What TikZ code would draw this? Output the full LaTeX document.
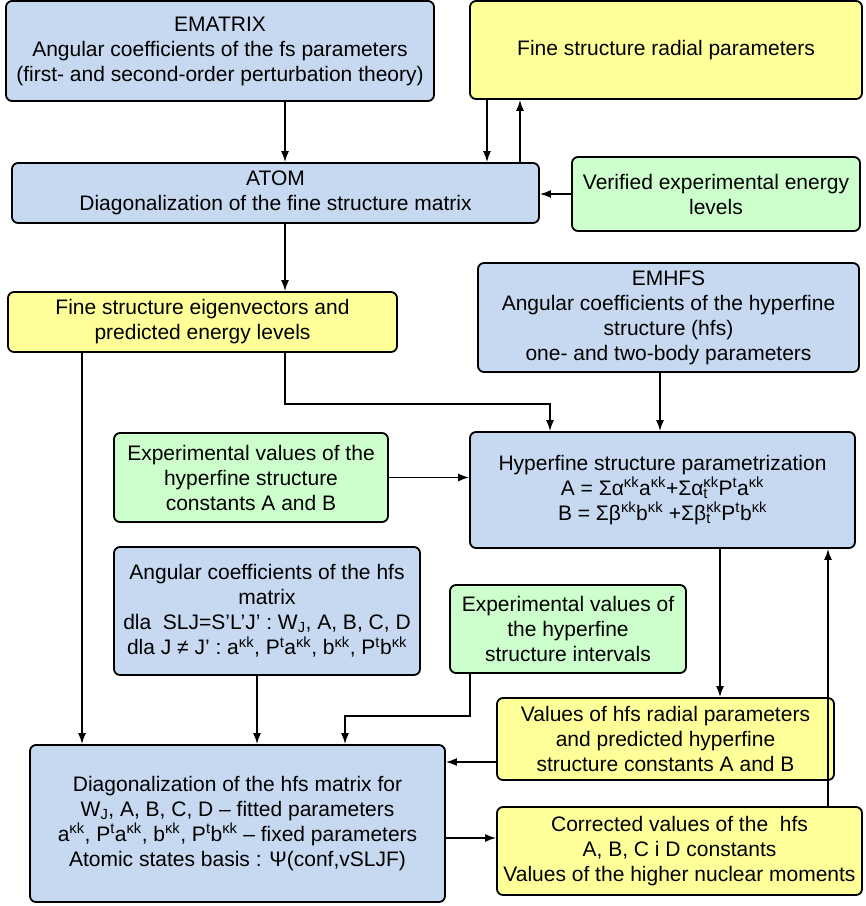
\documentclass[tikz,border=0pt]{standalone}
\usepackage{fontspec}
\setmainfont{Liberation Sans}
\usetikzlibrary{arrows.meta}

\definecolor{boxblue}{RGB}{198,217,240}
\definecolor{boxyellow}{RGB}{255,255,153}
\definecolor{boxgreen}{RGB}{204,255,204}

\newcommand{\sk}{\textsuperscript{κk}}
\newcommand{\st}{\textsuperscript{t}}
\newcommand{\tsk}{\rlap{\textsubscript{t}}\textsuperscript{κk}}
\newcommand{\Wj}{W\textsubscript{J}}

\tikzset{
  box/.style={draw=black, line width=1.8pt, rounded corners=6pt, align=center,
    inner sep=0pt, font=\fontsize{21}{25}\selectfont},
  bluebox/.style={box, fill=boxblue},
  yellowbox/.style={box, fill=boxyellow},
  greenbox/.style={box, fill=boxgreen},
  arr/.style={line width=1.6pt, -{Latex[length=11pt,width=8pt]}}
}

\begin{document}
\begin{tikzpicture}[x=1pt,y=-1pt]
\useasboundingbox (0,0) rectangle (866,906);

\node[bluebox, minimum width=428pt, minimum height=100pt] (ematrix) at (220,51)
  {EMATRIX\\Angular coefficients of the fs parameters\\(first- and second-order perturbation theory)};
\node[yellowbox, minimum width=392pt, minimum height=98pt] (fsrad) at (666,50)
  {Fine structure radial parameters};
\node[bluebox, minimum width=527pt, minimum height=60pt] (atom) at (275.5,193)
  {ATOM\\Diagonalization of the fine structure matrix};
\node[greenbox, minimum width=288pt, minimum height=74pt] (verified) at (716,194)
  {Verified experimental energy\\levels};
\node[yellowbox, minimum width=389pt, minimum height=60pt] (eigen) at (202.5,322)
  {Fine structure eigenvectors and\\predicted energy levels};
\node[bluebox, minimum width=381pt, minimum height=109pt] (emhfs) at (668.5,317.5)
  {EMHFS\\Angular coefficients of the hyperfine\\structure (hfs)\\one- and two-body parameters};
\node[greenbox, minimum width=274pt, minimum height=89pt] (expab) at (251,477.5)
  {Experimental values of the\\hyperfine structure\\constants A and B};
\node[bluebox, minimum width=385pt, minimum height=116pt] (hfspar) at (662.5,490)
  {Hyperfine structure parametrization\\
   A = Σα\sk a\sk+Σα\tsk P\st a\sk\\
   B = Σβ\sk b\sk\ +Σβ\tsk P\st b\sk};
\node[bluebox, minimum width=306pt, minimum height=128pt] (anghfs) at (267,611)
  {Angular coefficients of the hfs\\matrix\\
   dla\ \ SLJ=S’L’J’ : \Wj, A, B, C, D\\
   dla J ≠ J’ : a\sk, P\st a\sk, b\sk, P\st b\sk};
\node[greenbox, minimum width=236pt, minimum height=88pt] (expint) at (568,629)
  {Experimental values of\\the hyperfine\\structure intervals};
\node[yellowbox, minimum width=337pt, minimum height=82pt] (hfsrad) at (665.5,739)
  {Values of hfs radial parameters\\and predicted hyperfine\\structure constants A and B};
\node[bluebox, minimum width=415pt, minimum height=157pt] (diag) at (237.5,823.5)
  {Diagonalization of the hfs matrix for\\
   \Wj, A, B, C, D – fitted parameters\\
   a\sk, P\st a\sk, b\sk, P\st b\sk{} – fixed parameters\\
   Atomic states basis : Ψ(conf,vSLJF)};
\node[yellowbox, minimum width=365pt, minimum height=88pt] (corr) at (679.5,851)
  {Corrected values of the\ \ hfs\\A, B, C i D constants\\Values of the higher nuclear moments};

\draw[arr] ([xshift=65pt]ematrix.south) -- ([xshift=65pt]ematrix.south |- atom.north);
\draw[arr] ([xshift=-179pt]fsrad.south) -- ([xshift=-179pt]fsrad.south |- atom.north);
\draw[arr] ([xshift=-146pt]fsrad.south |- atom.north) -- ([xshift=-146pt]fsrad.south);
\draw[arr] (verified.west) -- (verified.west -| atom.east);
\draw[arr] ([xshift=9.5pt]atom.south) -- ([xshift=9.5pt]atom.south |- eigen.north);
\draw[arr] ([xshift=82.5pt]eigen.south) |- ([xshift=-112.5pt,yshift=27pt]hfspar.north)
  -- ([xshift=-112.5pt]hfspar.north);
\draw[arr] ([xshift=-8.5pt]emhfs.south) -- ([xshift=-8.5pt]emhfs.south |- hfspar.north);
\draw[arr] (expab.east) -- (expab.east -| hfspar.west);
\draw[arr] ([xshift=-120.5pt]eigen.south) -- ([xshift=-120.5pt]eigen.south |- diag.north);
\draw[arr] ([xshift=-10pt]anghfs.south) -- ([xshift=-10pt]anghfs.south |- diag.north);
\draw[arr] ([xshift=-98pt]expint.south) |- ([xshift=107.5pt,yshift=28pt]diag.north)
  -- ([xshift=107.5pt]diag.north);
\draw[arr] ([xshift=57.5pt]hfspar.south) -- ([xshift=57.5pt]hfspar.south |- hfsrad.north);
\draw[arr] ([yshift=-23pt]hfsrad.west) -- ([yshift=-23pt]hfsrad.west -| diag.east);
\draw[arr] ([yshift=13pt]corr.west -| diag.east) -- ([yshift=13pt]corr.west);
\draw[arr] ([xshift=148.5pt]corr.north) -- ([xshift=148.5pt]corr.north |- hfspar.south);
\end{tikzpicture}
\end{document}
